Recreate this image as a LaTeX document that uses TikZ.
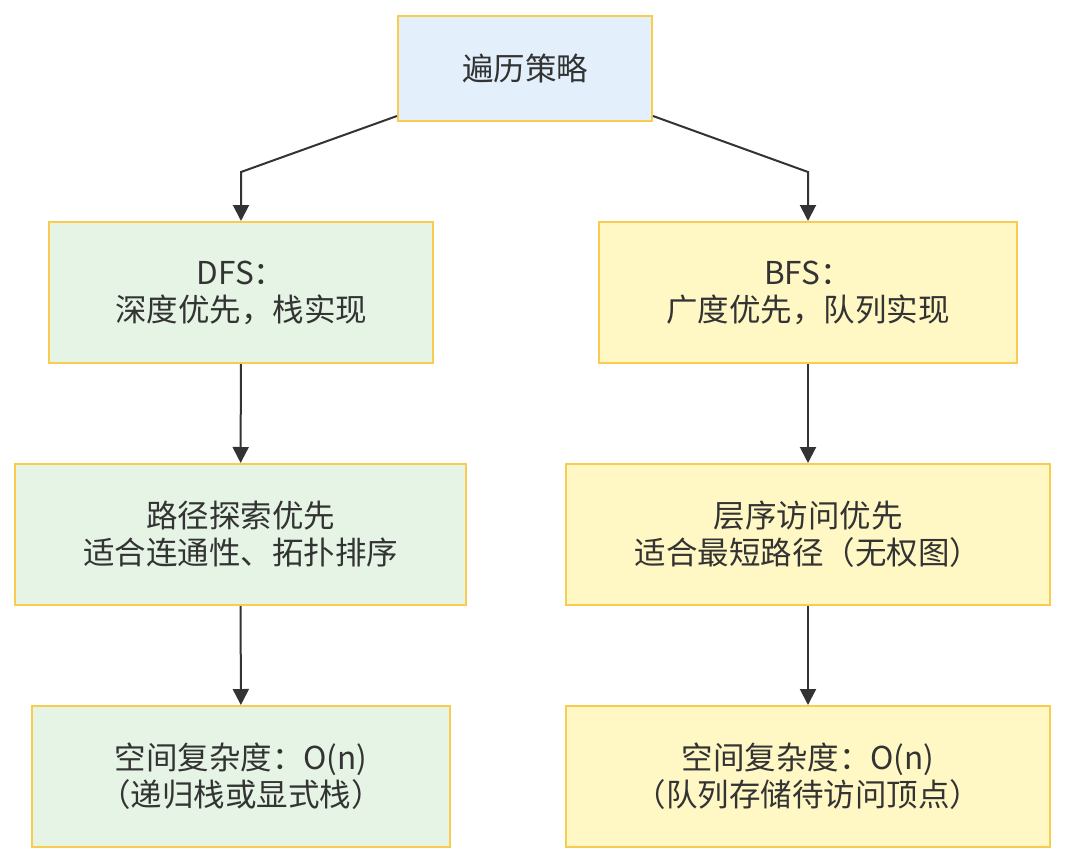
\documentclass[tikz,border=0pt]{standalone}
\usepackage{fontspec}
\setmainfont{Noto Sans CJK SC}
\usetikzlibrary{arrows.meta}

\definecolor{boxline}{HTML}{F9CC50}
\definecolor{blueFill}{HTML}{E3F0FC}
\definecolor{greenFill}{HTML}{E6F4E6}
\definecolor{yellowFill}{HTML}{FFF8C5}
\definecolor{inkGray}{HTML}{333333}

\tikzset{
  stepbox/.style={draw=boxline, line width=2pt, text=inkGray, align=center,
    inner sep=0pt, font=\fontsize{31.5}{37}\selectfont},
  flow/.style={draw=inkGray, line width=2pt, -{Triangle[length=16pt,width=16pt]}}
}

\begin{document}
\begin{tikzpicture}[x=1pt, y=-1pt]
  \useasboundingbox (0,0) rectangle (1066,864);

  % Root of the two strategies
  \node[stepbox, fill=blueFill, minimum width=254pt, minimum height=105pt] (strategy) at (525,68.5) {遍历策略};

  % Depth first column
  \node[stepbox, fill=greenFill, minimum width=384pt, minimum height=141pt] (dfs) at (241,292.5) {DFS：\\深度优先，栈实现};
  \node[stepbox, fill=greenFill, minimum width=451pt, minimum height=141pt] (dfsuse) at (240.5,534.5) {路径探索优先\\适合连通性、拓扑排序};
  \node[stepbox, fill=greenFill, minimum width=418pt, minimum height=141pt] (dfsspace) at (241,776.5) {空间复杂度：O(n)\\（递归栈或显式栈）};

  % Breadth first column
  \node[stepbox, fill=yellowFill, minimum width=418pt, minimum height=141pt] (bfs) at (808,292.5) {BFS：\\广度优先，队列实现};
  \node[stepbox, fill=yellowFill, minimum width=484pt, minimum height=141pt] (bfsuse) at (808,534.5) {层序访问优先\\适合最短路径（无权图）};
  \node[stepbox, fill=yellowFill, minimum width=484pt, minimum height=141pt] (bfsspace) at (808,776.5) {空间复杂度：O(n)\\（队列存储待访问顶点）};

  % Bends of the two top connectors
  \coordinate (lbend) at (241,172);
  \coordinate (rbend) at (808,172);

  \draw[flow] ([yshift=6pt]strategy.south west) -- (lbend) -- (dfs.north);
  \draw[flow] ([yshift=6pt]strategy.south east) -- (rbend) -- (bfs.north);
  \draw[flow] (dfs) -- (dfsuse);
  \draw[flow] (dfsuse) -- (dfsspace);
  \draw[flow] (bfs) -- (bfsuse);
  \draw[flow] (bfsuse) -- (bfsspace);
\end{tikzpicture}
\end{document}
